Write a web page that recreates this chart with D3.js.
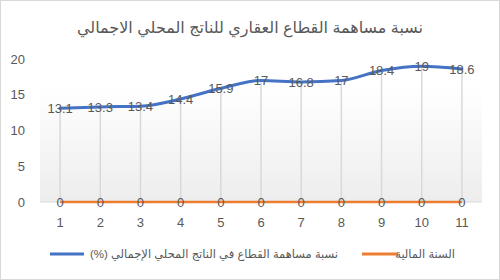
<!DOCTYPE html>
<html>
<head>
<meta charset="utf-8">
<script src="https://cdn.jsdelivr.net/npm/d3@7"></script>
<style>
  html, body { margin: 0; padding: 0; background: #fff; }
  svg { display: block; font-family: 'Liberation Sans', Arial, 'DejaVu Sans', sans-serif; }
</style>
</head>
<body>
<div id="chart"></div>
<script>
// categories and series values
const years = ['1','2','3','4','5','6','7','8','9','10','11'];
const shareValues = [13.1, 13.3, 13.4, 14.4, 15.9, 17, 16.8, 17, 18.4, 19, 18.6];
const yearValues  = [0, 0, 0, 0, 0, 0, 0, 0, 0, 0, 0];
const yTicks = [0, 5, 10, 15, 20];

const titleText = 'نسبة مساهمة القطاع العقاري للناتج المحلي الاجمالي';
const shareName = 'نسبة مساهمة القطاع في الناتج المحلي الإجمالي (%)';
const yearName  = 'السنة المالية';

const W = 500, H = 280;
const margin = { top: 59, right: 18, bottom: 78, left: 40 };
const width  = W - margin.left - margin.right;
const height = H - margin.top - margin.bottom;

const svg = d3.select('#chart').append('svg')
  .attr('width', W).attr('height', H);

// chart border
svg.append('rect')
  .attr('x', 0.5).attr('y', 0.5)
  .attr('width', W - 1).attr('height', H - 1)
  .attr('fill', '#fff').attr('stroke', '#d9d9d9');

// plot area gradient
const grad = svg.append('defs').append('linearGradient')
  .attr('id', 'bg').attr('x1', 0).attr('y1', 0).attr('x2', 0).attr('y2', 1);
grad.append('stop').attr('offset', '0%').attr('stop-color', '#ffffff');
grad.append('stop').attr('offset', '20%').attr('stop-color', '#ffffff');
grad.append('stop').attr('offset', '100%').attr('stop-color', '#ededed');

const g = svg.append('g')
  .attr('transform', `translate(${margin.left},${margin.top})`);

g.append('rect')
  .attr('x', 0).attr('y', 0)
  .attr('width', width).attr('height', height)
  .attr('fill', 'url(#bg)');

// scales
const x = d3.scaleBand().domain(years).range([0, width]);
const y = d3.scaleLinear().domain([0, 20]).range([height, 0]);
const cx = d => x(d) + x.bandwidth() / 2;

// title
svg.append('text')
  .attr('x', W / 2).attr('y', 33)
  .attr('text-anchor', 'middle')
  .attr('direction', 'rtl')
  .style('font-size', '16px')
  .style('fill', '#595959')
  .text(titleText);

// y axis labels
g.selectAll('.ytick').data(yTicks).enter().append('text')
  .attr('x', -15).attr('y', d => y(d))
  .attr('dy', '0.35em')
  .attr('text-anchor', 'end')
  .style('font-size', '13px')
  .style('fill', '#595959')
  .text(d => d);

// drop lines
g.selectAll('.drop').data(years).enter().append('line')
  .attr('x1', d => cx(d)).attr('x2', d => cx(d))
  .attr('y1', (d, i) => y(shareValues[i])).attr('y2', y(0))
  .attr('stroke', '#d9d9d9').attr('stroke-width', 1.5);

// x axis line
g.append('line')
  .attr('x1', 0).attr('x2', width)
  .attr('y1', y(0)).attr('y2', y(0))
  .attr('stroke', '#d9d9d9').attr('stroke-width', 1);

// x tick labels
g.selectAll('.xtick').data(years).enter().append('text')
  .attr('x', d => cx(d)).attr('y', height + 20)
  .attr('dy', '0.35em')
  .attr('text-anchor', 'middle')
  .style('font-size', '13px')
  .style('fill', '#595959')
  .text(d => d);

// lines
const line = d3.line()
  .x((d, i) => cx(years[i]))
  .y(d => y(d))
  .curve(d3.curveMonotoneX);

g.append('path').datum(yearValues)
  .attr('d', line).attr('fill', 'none')
  .attr('stroke', '#ED7D31').attr('stroke-width', 2.5);

g.append('path').datum(shareValues)
  .attr('d', line).attr('fill', 'none')
  .attr('stroke', '#4472C4').attr('stroke-width', 3).attr('stroke-linecap', 'round');

// data labels
function labels(vals) {
  g.append('g').selectAll('text').data(vals).enter().append('text')
    .attr('x', (d, i) => cx(years[i])).attr('y', d => y(d))
    .attr('dy', '0.38em')
    .attr('text-anchor', 'middle')
    .style('font-size', '13px')
    .style('fill', '#595959')
    .text(d => d);
}
labels(shareValues);
labels(yearValues);

// legend (rtl text: "start" anchors the right edge)
const leg = svg.append('g').attr('transform', 'translate(0,254)');
leg.append('line').attr('x1', 50).attr('x2', 84).attr('y1', 0).attr('y2', 0)
  .attr('stroke', '#4472C4').attr('stroke-width', 3);
leg.append('text').attr('x', 338).attr('y', 0).attr('dy', '0.35em')
  .attr('text-anchor', 'start').attr('direction', 'rtl')
  .style('font-size', '11.5px').style('fill', '#595959')
  .text(shareName);
leg.append('line').attr('x1', 362).attr('x2', 398).attr('y1', 0).attr('y2', 0)
  .attr('stroke', '#ED7D31').attr('stroke-width', 3);
leg.append('text').attr('x', 455).attr('y', 0).attr('dy', '0.35em')
  .attr('text-anchor', 'start').attr('direction', 'rtl')
  .style('font-size', '11.5px').style('fill', '#595959')
  .text(yearName);
</script>
</body>
</html>
